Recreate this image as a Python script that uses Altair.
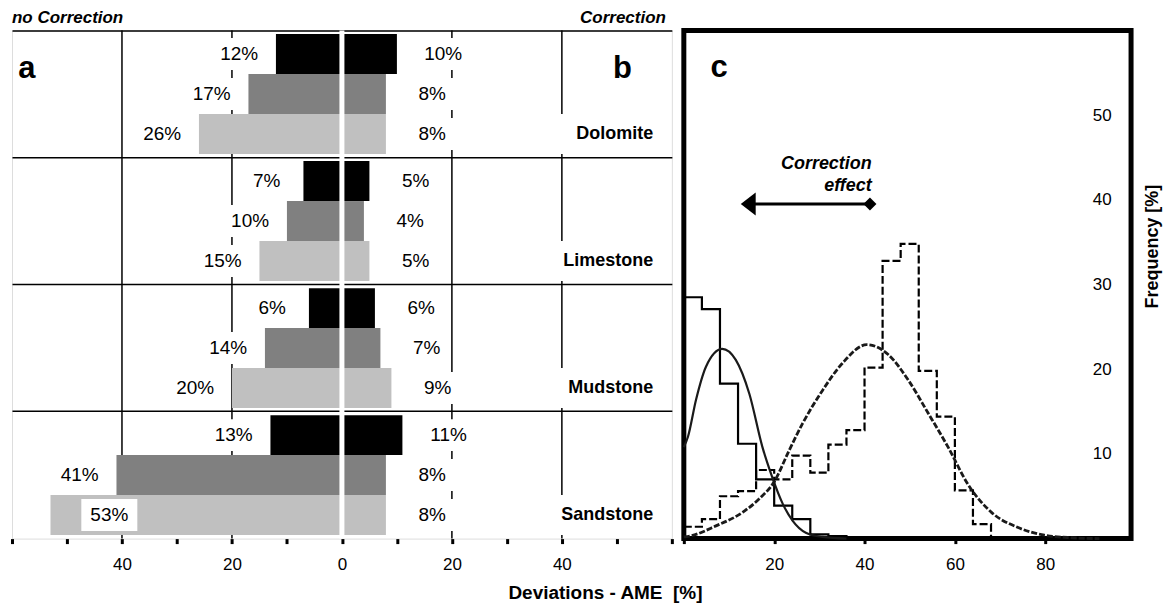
import altair as alt
import pandas as pd

FONT = "Liberation Sans, Arial, sans-serif"

# ---------------- data: panels a / b ----------------
rocks = ["Dolomite", "Limestone", "Mudstone", "Sandstone"]
series = ["black", "dark", "light"]
series_colors = ["#000000", "#808080", "#c0c0c0"]
nocorr_black = [12, 7, 6, 13]
nocorr_dark = [17, 10, 14, 41]
nocorr_light = [26, 15, 20, 53]
corr_black = [10, 5, 6, 11]
corr_dark = [8, 4, 7, 8]
corr_light = [8, 5, 9, 8]
ab_ticks = [-60, -50, -40, -30, -20, -10, 0, 10, 20, 30, 40, 50, 60]
ab_grid = [-40, -20, 20, 40]

# ---------------- data: panel c ----------------
bin_edges = [0, 4, 8, 12, 16, 20, 24, 28, 32, 36, 40, 44, 48, 52, 56, 60, 64, 68]
hist_corr = [28.5, 27.1, 18.3, 11.2, 7.0, 3.9, 2.3, 0.5, 0.3, 0.0]
hist_nocorr = [1.4, 2.3, 5.0, 5.6, 8.1, 7.0, 9.8, 7.8, 11.1, 12.8, 20.2, 32.8,
               34.8, 19.8, 14.4, 5.7, 1.7, 0.0]
fit_corr_x = [0, 0.9, 2.7, 4.9, 8.5, 11.5, 14.5, 17.4, 19.6, 21.9, 24.1, 27.0, 30.7, 36]
fit_corr_y = [10.8, 12.0, 16.4, 20.3, 22.4, 21.1, 17.1, 10.8, 7.2, 4.1, 2.1, 0.7, 0.2, 0.0]
fit_nocorr_x = [0, 1.3, 7.1, 13.0, 16.7, 20.0, 23.3, 26.3, 30.7, 35.1, 40.5, 45.3,
                49.7, 54.1, 58.5, 62.9, 68.1, 74.0, 79.8, 86, 92]
fit_nocorr_y = [0.2, 0.3, 1.5, 3.1, 4.7, 6.7, 10.4, 13.6, 17.5, 20.7, 22.9, 21.7,
                18.7, 14.8, 10.8, 6.4, 3.1, 1.3, 0.4, 0.1, 0.0]
c_xticks = [0, 20, 40, 60, 80]
c_yticks = [10, 20, 30, 40, 50]

# ---------------- tables ----------------
rows = []
for i, r in enumerate(rocks):
    for s, L, R in zip(series, [nocorr_black, nocorr_dark, nocorr_light],
                       [corr_black, corr_dark, corr_light]):
        rows.append(dict(rock=r, series=s, side="L", value=L[i]))
        rows.append(dict(rock=r, series=s, side="R", value=R[i]))
bars_df = pd.DataFrame(rows)
rock_df = pd.DataFrame({"rock": rocks, "series": ["light"] * len(rocks)})
grid_df = pd.DataFrame({"g": ab_grid})
zero_df = pd.DataFrame({"z": [0]})

hist_c_df = pd.DataFrame({"x": bin_edges[:len(hist_corr)], "y": hist_corr})
hist_n_df = pd.DataFrame({"x": bin_edges[:len(hist_nocorr)], "y": hist_nocorr})
fit_c_df = pd.DataFrame({"x": fit_corr_x, "y": fit_corr_y})
fit_n_df = pd.DataFrame({"x": fit_nocorr_x, "y": fit_nocorr_y})
one_df = pd.DataFrame({"t": ["x"]})

# ---------------- panel a/b ----------------
PX = 661 / 120.0  # pixels per unit
x_scale = alt.Scale(domain=[-60, 60], nice=False, zero=False)
x_axis = alt.Axis(
    values=ab_ticks,
    labelExpr="(datum.value % 20 == 0 && abs(datum.value) < 60) ? abs(datum.value) : ''",
    grid=False, domain=False, tickSize=5, tickWidth=3, tickColor="black",
    labelFontSize=17, labelPadding=13, labelColor="black", labelFont=FONT,
    title="Deviations - AME\u00a0 [%]", titleFontSize=19, titleFontWeight="bold",
    titleFont=FONT, titleColor="black", titleX=594, titleY=45,
    titleAlign="center", titleBaseline="top", titleAnchor="start")
y_enc = alt.Y("rock:N", sort=rocks,
              scale=alt.Scale(paddingInner=0, paddingOuter=0),
              axis=alt.Axis(labels=False, ticks=False, domain=False, grid=True,
                            gridColor="black", gridWidth=1.5, gridOpacity=1,
                            bandPosition=0, title=None))
yoff_enc = alt.YOffset("series:N", sort=series,
                       scale=alt.Scale(paddingInner=0, paddingOuter=0.09))

grid_layer = alt.Chart(grid_df).mark_rule(color="black", strokeWidth=1.5).encode(
    x=alt.X("g:Q", scale=x_scale, axis=x_axis))

bar_layer = alt.Chart(bars_df).transform_calculate(
    signed="datum.side == 'L' ? -datum.value : datum.value"
).mark_bar().encode(
    x=alt.X("signed:Q", scale=x_scale),
    y=y_enc, yOffset=yoff_enc,
    color=alt.Color("series:N", scale=alt.Scale(domain=series, range=series_colors),
                    legend=None))

label_calc = dict(
    lx=("datum.side == 'L' ? (datum.value > 50 ? -datum.value + 10.7 : -datum.value - 6.7)"
        " : datum.value + 8.4"),
    hw="((length(toString(datum.value)) * 10.6 + 16.9) / 2 + 9) / %f" % PX,
    lab="datum.value + '%'",
)
box_layer = alt.Chart(bars_df).transform_calculate(**label_calc).transform_calculate(
    lo="datum.lx - datum.hw", hi="datum.lx + datum.hw"
).mark_bar(color="white", height=32).encode(
    x=alt.X("lo:Q", scale=x_scale), x2="hi:Q", y=y_enc, yOffset=yoff_enc)

text_layer = alt.Chart(bars_df).transform_calculate(**label_calc).mark_text(
    fontSize=19, font=FONT, color="black", align="center", baseline="middle"
).encode(x=alt.X("lx:Q", scale=x_scale), y=y_enc, yOffset=yoff_enc, text="lab:N")

zero_layer = alt.Chart(zero_df).mark_rule(color="white", strokeWidth=5).encode(
    x=alt.X("z:Q", scale=x_scale))

rock_box = alt.Chart(rock_df).transform_calculate(
    lo="56.6 - (length(datum.rock) * 11.9 + 14) / %f" % PX, hi="59.6"
).mark_bar(color="white").encode(
    x=alt.X("lo:Q", scale=x_scale), x2="hi:Q", y=y_enc, yOffset=yoff_enc)
rock_text = alt.Chart(rock_df).mark_text(
    fontSize=18, fontWeight="bold", font=FONT, color="black", align="right",
    baseline="middle").encode(x=alt.datum(56.6), y=y_enc, yOffset=yoff_enc,
                               text="rock:N")

letter_a = alt.Chart(one_df).mark_text(
    text="a", fontSize=31, fontWeight="bold", font=FONT, color="black",
    align="center", baseline="alphabetic", dy=24).encode(
    x=alt.datum(-57.3), y=alt.datum("Dolomite"), yOffset=alt.datum("black"))
letter_b = alt.Chart(one_df).mark_text(
    text="b", fontSize=31, fontWeight="bold", font=FONT, color="black",
    align="center", baseline="alphabetic", dy=24).encode(
    x=alt.datum(51), y=alt.datum("Dolomite"), yOffset=alt.datum("black"))
top_left = alt.Chart(one_df).mark_text(
    text="no Correction", fontSize=17, fontWeight="bold", fontStyle="italic",
    font=FONT, color="black", align="left", baseline="alphabetic").encode(
    x=alt.datum(-60), y=alt.value(-7))
top_right = alt.Chart(one_df).mark_text(
    text="Correction", fontSize=17, fontWeight="bold", fontStyle="italic",
    font=FONT, color="black", align="right", baseline="alphabetic", dx=-6).encode(
    x=alt.datum(60), y=alt.value(-7))

left = alt.layer(grid_layer, bar_layer, box_layer, text_layer, zero_layer,
                 rock_box, rock_text, letter_a, letter_b, top_left, top_right
                 ).properties(width=661, height=509)

# ---------------- panel c ----------------
xs_c = alt.Scale(domain=[0, 99], nice=False, zero=False)
ys_c = alt.Scale(domain=[0, 60], nice=False)
x_axis_c = alt.Axis(values=c_xticks,
                    labelExpr="datum.value > 0 ? datum.value : ''",
                    grid=False, domain=False, tickSize=5, tickWidth=3,
                    tickColor="black", labelFontSize=17, labelPadding=13,
                    labelColor="black", labelFont=FONT, title=None)
y_axis_c = alt.Axis(orient="right", values=c_yticks, grid=False, domain=False,
                    ticks=False, labelAlign="right", labelPadding=-20,
                    labelBaseline="middle",
                    labelFontSize=17, labelColor="black", labelFont=FONT,
                    title="Frequency [%]", titleAngle=270, titleFontSize=18,
                    titleFontWeight="bold", titleFont=FONT, titleColor="black",
                    titleX=21, titleY=216, titleAlign="center",
                    titleBaseline="middle")

h_corr = alt.Chart(hist_c_df).mark_line(
    interpolate="step-after", color="black", strokeWidth=2.2).encode(
    x=alt.X("x:Q", scale=xs_c, axis=x_axis_c),
    y=alt.Y("y:Q", scale=ys_c, axis=y_axis_c))
h_nocorr = alt.Chart(hist_n_df).mark_line(
    interpolate="step-after", color="black", strokeWidth=2.2,
    strokeDash=[8, 3]).encode(x=alt.X("x:Q", scale=xs_c), y=alt.Y("y:Q", scale=ys_c))
f_corr = alt.Chart(fit_c_df).mark_line(
    interpolate="monotone", color="#1a1a1a", strokeWidth=2.2).encode(
    x=alt.X("x:Q", scale=xs_c), y=alt.Y("y:Q", scale=ys_c))
f_nocorr = alt.Chart(fit_n_df).mark_line(
    interpolate="monotone", color="#1a1a1a", strokeWidth=2.8,
    strokeDash=[6, 2]).encode(x=alt.X("x:Q", scale=xs_c), y=alt.Y("y:Q", scale=ys_c))

arrow_line = alt.Chart(one_df).mark_rule(color="black", strokeWidth=3).encode(
    x=alt.datum(13.5), x2=alt.datum(41), y=alt.datum(39.5))
arrow_head = alt.Chart(one_df).mark_point(
    shape="M0,0L1.3,-1L1.3,1Z", size=529, filled=True, color="black", opacity=1
).encode(x=alt.datum(12.6), y=alt.datum(39.5))
arrow_tail = alt.Chart(one_df).mark_point(
    shape="diamond", size=169, filled=True, color="black", opacity=1
).encode(x=alt.datum(41.2), y=alt.datum(39.5))
arrow_text = alt.Chart(one_df).mark_text(
    text="Correction\neffect", lineBreak="\n", lineHeight=22, fontSize=18,
    fontWeight="bold", fontStyle="italic", font=FONT, color="black",
    align="right", baseline="alphabetic").encode(
    x=alt.datum(41.6), y=alt.datum(43.6))
letter_c = alt.Chart(one_df).mark_text(
    text="c", fontSize=31, fontWeight="bold", font=FONT, color="black",
    align="center", baseline="alphabetic").encode(
    x=alt.datum(7.8), y=alt.datum(54.5))

right = alt.layer(h_corr, h_nocorr, f_corr, f_nocorr, arrow_line, arrow_head,
                  arrow_tail, arrow_text, letter_c
                  ).properties(width=448, height=509,
                               view=alt.ViewBackground(stroke="black", strokeWidth=5))

chart = alt.hconcat(left, right, spacing=12, bounds="flush").configure_view(
    stroke="black", strokeWidth=3.5
).configure(font=FONT).properties(
    padding={"left": 2, "top": 0, "right": 0, "bottom": 0})

chart.save("out.html", embed_options={"renderer": "svg", "actions": False})
